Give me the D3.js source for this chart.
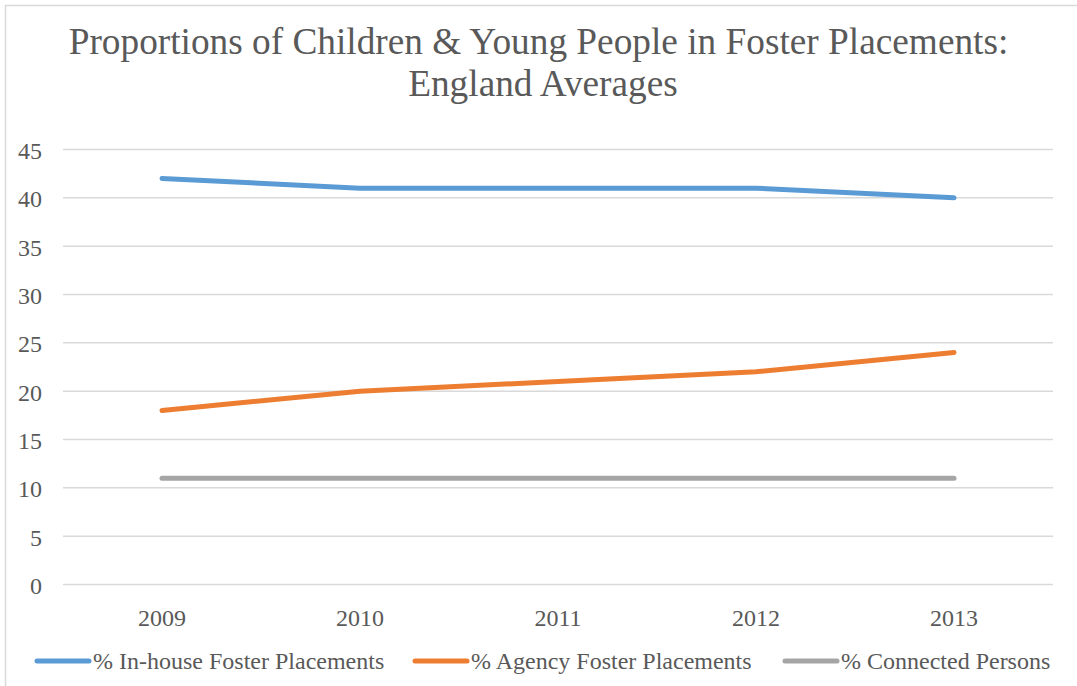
<!DOCTYPE html>
<html>
<head>
<meta charset="utf-8">
<script src="https://cdn.jsdelivr.net/npm/d3@7/dist/d3.min.js"></script>
<style>
  html, body { margin: 0; padding: 0; background: #fff; overflow: hidden; }
  svg { display: block; }
  text { font-family: "Liberation Serif", "Times New Roman", serif; fill: #595959; }
</style>
</head>
<body>
<svg id="chart" width="1077" height="686"></svg>
<script>
// Foster placement proportions, England averages
const years = ["2009", "2010", "2011", "2012", "2013"];
const inHouse = [42, 41, 41, 41, 40];
const agency = [18, 20, 21, 22, 24];
const connected = [11, 11, 11, 11, 11];
const yTicks = [0, 5, 10, 15, 20, 25, 30, 35, 40, 45];

const seriesNames = ["% In-house Foster Placements", "% Agency Foster Placements", "% Connected Persons"];
const seriesColors = ["#5B9BD5", "#ED7D31", "#A5A5A5"];
const seriesValues = [inHouse, agency, connected];

const svg = d3.select("#chart");
const W = 1077, H = 686;

// outer chart frame
svg.append("rect")
  .attr("x", 5.5).attr("y", 5.5)
  .attr("width", W + 10).attr("height", H + 10)
  .attr("fill", "none").attr("stroke", "#d9d9d9").attr("stroke-width", 1.5);

// title
const title = svg.append("text")
  .attr("text-anchor", "middle")
  .attr("font-size", 37.3);
title.append("tspan").attr("x", 538.5).attr("y", 54)
  .text("Proportions of Children & Young People in Foster Placements:");
title.append("tspan").attr("x", 543).attr("y", 96)
  .text("England Averages");

const plot = { left: 63, right: 1053, top: 149.5, bottom: 584.5 };

const x = d3.scaleBand().domain(years).range([plot.left, plot.right]);
const y = d3.scaleLinear().domain([0, 45]).range([plot.bottom, plot.top]);

// horizontal gridlines
svg.append("g")
  .selectAll("line")
  .data(yTicks)
  .join("line")
  .attr("x1", plot.left).attr("x2", plot.right)
  .attr("y1", d => y(d)).attr("y2", d => y(d))
  .attr("stroke", "#d9d9d9").attr("stroke-width", 1.5);

// y axis labels
const yAxis = d3.axisLeft(y).tickValues(yTicks).tickSize(0).tickPadding(0);
const gy = svg.append("g").attr("transform", "translate(42,0)").call(yAxis);
gy.select(".domain").remove();
gy.selectAll("text")
  .attr("font-size", 24)
  .attr("font-family", "Liberation Serif, serif")
  .attr("fill", "#595959")
  .attr("dy", "0.38em");

// x axis labels
const xAxis = d3.axisBottom(x).tickSize(0).tickPadding(0);
const gx = svg.append("g").attr("transform", "translate(0,626)").call(xAxis);
gx.select(".domain").remove();
gx.selectAll("text")
  .attr("font-size", 24)
  .attr("font-family", "Liberation Serif, serif")
  .attr("fill", "#595959")
  .attr("y", 0)
  .attr("dy", 0);

// series lines
const line = d3.line()
  .x((d, i) => x(years[i]) + x.bandwidth() / 2)
  .y(d => y(d));

seriesValues.forEach((vals, k) => {
  svg.append("path")
    .datum(vals)
    .attr("d", line)
    .attr("fill", "none")
    .attr("stroke", seriesColors[k])
    .attr("stroke-width", 5)
    .attr("stroke-linecap", "round")
    .attr("stroke-linejoin", "round");
});

// legend
const legendX = [37, 415, 785];
const legendY = 661;
const legend = svg.append("g");
seriesNames.forEach((name, k) => {
  legend.append("line")
    .attr("x1", legendX[k]).attr("x2", legendX[k] + 52)
    .attr("y1", legendY).attr("y2", legendY)
    .attr("stroke", seriesColors[k])
    .attr("stroke-width", 5)
    .attr("stroke-linecap", "round");
  legend.append("text")
    .attr("x", legendX[k] + 56).attr("y", legendY + 7.5)
    .attr("font-size", 24)
    .text(name);
});
</script>
</body>
</html>
